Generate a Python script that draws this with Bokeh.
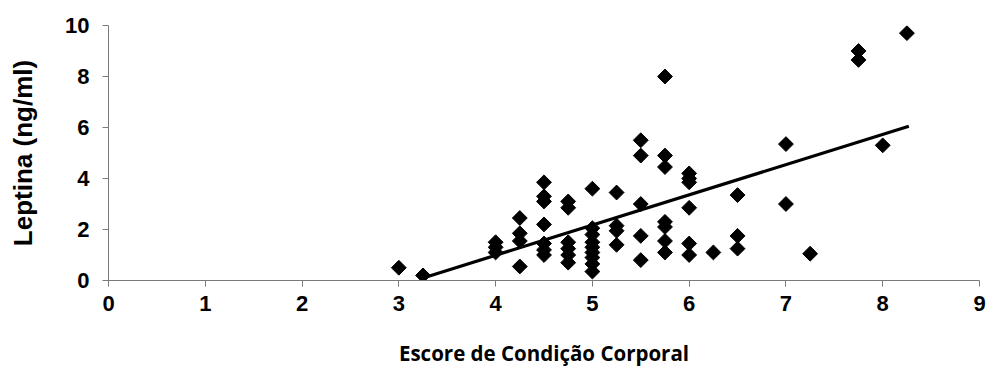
import numpy as np
from bokeh.plotting import figure
from bokeh.models import Range1d, FixedTicker
from bokeh.embed import file_html
from bokeh.resources import INLINE

# ---- data ----
ecc_levels = [3.0, 3.25, 4.0, 4.25, 4.5, 4.75, 5.0, 5.25, 5.5, 5.75, 6.0, 6.25, 6.5, 7.0, 7.25, 7.75, 8.0, 8.25]
leptina_by_level = [
    [0.5],
    [0.2],
    [1.5, 1.3, 1.1],
    [2.45, 1.85, 1.55, 0.55],
    [3.85, 3.3, 3.1, 2.2, 1.45, 1.2, 1.0],
    [3.1, 2.85, 1.5, 1.25, 1.0, 0.7],
    [3.6, 2.05, 1.8, 1.5, 1.3, 1.1, 0.9, 0.65, 0.35],
    [3.45, 2.15, 1.95, 1.4],
    [5.5, 4.9, 3.0, 1.75, 0.8],
    [8.0, 4.9, 4.45, 2.3, 2.1, 1.55, 1.1],
    [4.2, 4.0, 3.85, 2.85, 1.45, 1.0],
    [1.1],
    [3.35, 1.75, 1.25],
    [5.35, 3.0],
    [1.05],
    [9.0, 8.65],
    [5.3],
    [9.7],
]
trend_x = [3.25, 8.27]
trend_y = [0.1, 6.05]
x_ticks = [0, 1, 2, 3, 4, 5, 6, 7, 8, 9]
y_ticks = [0, 2, 4, 6, 8, 10]
x_label = "Escore de Condição Corporal"
y_label = "Leptina (ng/ml)"

xs = [lv for lv, ys in zip(ecc_levels, leptina_by_level) for _ in ys]
ys = [y for ys_ in leptina_by_level for y in ys_]

p = figure(width=990, height=377, output_backend="svg", toolbar_location=None,
           x_range=Range1d(0, 9), y_range=Range1d(0, 10),
           min_border_left=108, min_border_right=11, min_border_top=25, min_border_bottom=97)
p.outline_line_color = None
p.grid.visible = False
p.background_fill_color = "white"
p.border_fill_color = "white"

p.line(trend_x, trend_y, line_color="black", line_width=3.2)
p.scatter(xs, ys, marker="square", angle=np.pi / 4, size=10.5,
          fill_color="black", line_color="black")

for ax in (p.xaxis[0], p.yaxis[0]):
    ax.axis_line_color = "#7a7a7a"
    ax.axis_line_width = 1
    ax.major_tick_line_color = "#7a7a7a"
    ax.major_tick_in = 0
    ax.major_tick_out = 6
    ax.minor_tick_line_color = None
    ax.major_label_text_font = "Liberation Sans"
    ax.major_label_text_font_style = "bold"
    ax.major_label_text_font_size = "22px"
    ax.major_label_text_color = "black"
    ax.axis_label_text_font_style = "bold"
    ax.axis_label_text_color = "black"

p.xaxis.ticker = FixedTicker(ticks=x_ticks)
p.yaxis.ticker = FixedTicker(ticks=y_ticks)
p.xaxis.axis_label = x_label
p.yaxis.axis_label = y_label
p.xaxis.axis_label_text_font = "Open Sans"
p.yaxis.axis_label_text_font = "Liberation Sans"
p.xaxis.axis_label_text_font_size = "20.5px"
p.yaxis.axis_label_text_font_size = "26px"
p.xaxis.major_label_standoff = 9
p.yaxis.major_label_standoff = 13
p.xaxis.axis_label_standoff = 25
p.yaxis.axis_label_standoff = 24

open("out.html", "w").write(file_html(p, INLINE))
